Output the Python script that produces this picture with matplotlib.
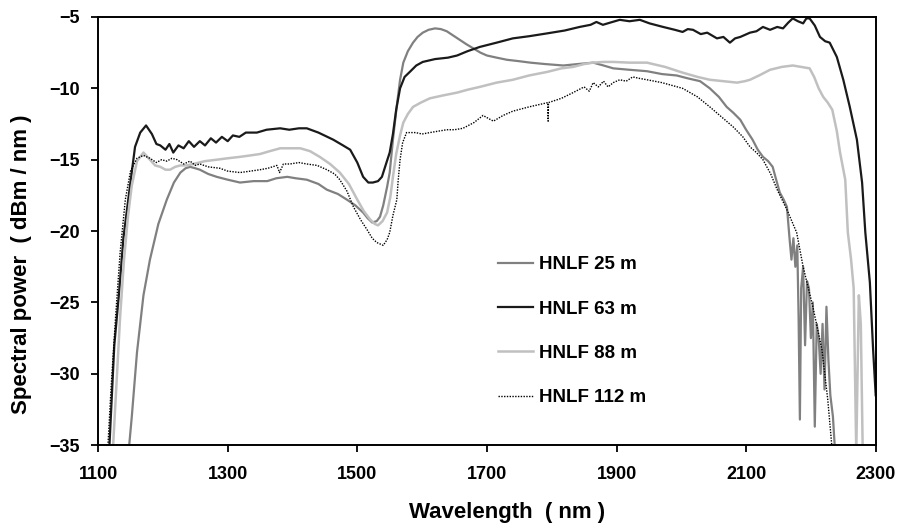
import matplotlib
matplotlib.use("Agg")
import matplotlib.pyplot as plt

plt.rcParams['font.family'] = ['Liberation Sans', 'DejaVu Sans']
plt.rcParams['font.weight'] = 'bold'

# HNLF 25 m
wl25 = [1146, 1152, 1160, 1170, 1180, 1193, 1206, 1217, 1227, 1235, 1242, 1250, 1257, 1270,
        1283, 1300, 1319, 1340, 1361, 1375, 1392, 1405, 1422, 1440, 1453, 1470, 1484, 1497,
        1509, 1516, 1523, 1530, 1535, 1540, 1546, 1550, 1555, 1561, 1566, 1571, 1578, 1586,
        1593, 1601, 1610, 1620, 1629, 1638, 1648, 1658, 1668, 1679, 1690, 1700, 1715, 1731,
        1750, 1767, 1790, 1818, 1840, 1864, 1880, 1895, 1920, 1947, 1970, 1993, 2010, 2029,
        2044, 2058, 2070, 2080, 2091, 2100, 2110, 2118, 2126, 2134, 2141, 2147, 2152, 2158,
        2163, 2167, 2170, 2173, 2176, 2179, 2181, 2183, 2185, 2188, 2191, 2194, 2197, 2200,
        2203, 2206, 2209, 2212, 2215, 2218, 2221, 2224, 2227, 2230, 2234, 2238]
p25 = [-36, -33, -28.5, -24.5, -22, -19.5, -17.8, -16.6, -15.9, -15.6, -15.5, -15.6, -15.7, -16.0,
       -16.2, -16.4, -16.6, -16.5, -16.5, -16.3, -16.2, -16.3, -16.4, -16.7, -17.1, -17.4, -17.8, -18.2,
       -18.7, -19.1, -19.4, -19.3, -19.0, -18.2, -16.9, -15.9, -13.6, -11.2, -9.4, -8.2, -7.4, -6.8,
       -6.4, -6.1, -5.9, -5.8, -5.85, -6.0, -6.3, -6.6, -6.9, -7.2, -7.5, -7.7, -7.85, -8.0,
       -8.1, -8.2, -8.3, -8.4, -8.3, -8.2, -8.4, -8.6, -8.7, -8.8, -9.0, -9.1, -9.3, -9.5,
       -10.0, -10.6, -11.3, -11.7, -12.2, -12.9, -13.6, -14.3, -14.8, -15.1, -15.5, -16.5, -17.3, -17.8,
       -18.3, -20.5, -22.0, -20.5, -22.5, -21.0, -26.0, -33.2, -24.0, -22.5, -28.0, -23.5, -24.0, -27.5,
       -25.0, -33.7, -26.5, -27.5, -30.0, -26.5, -31.1, -25.3, -29.0, -31.5, -33.0, -36]

# HNLF 63 m
wl63 = [1117, 1125, 1132, 1139, 1149, 1157, 1165, 1174, 1183, 1190, 1196, 1204, 1210, 1216,
        1224, 1232, 1240, 1248, 1257, 1265, 1274, 1282, 1291, 1300, 1308, 1318, 1328, 1345,
        1360, 1381, 1395, 1410, 1422, 1440, 1463, 1478, 1489, 1500, 1509, 1517, 1524, 1532,
        1538, 1545, 1550, 1555, 1560, 1566, 1573, 1581, 1591, 1601, 1620, 1640, 1654, 1670,
        1689, 1715, 1740, 1765, 1793, 1820, 1843, 1860, 1869, 1879, 1890, 1905, 1920, 1936,
        1951, 1972, 1990, 2002, 2010, 2018, 2030, 2040, 2055, 2065, 2075, 2083, 2091, 2106,
        2116, 2126, 2137, 2148, 2157, 2165, 2172, 2180, 2188, 2193, 2198, 2206, 2214, 2222,
        2229, 2240, 2250, 2260, 2271, 2279, 2284, 2291, 2296, 2300]
p63 = [-35.5, -28, -24.5, -20.5, -16.9, -14.1, -13.1, -12.6, -13.2, -13.9, -14.0, -14.3, -13.9, -14.5,
       -14.0, -14.2, -13.7, -14.1, -13.7, -14.0, -13.5, -13.8, -13.4, -13.7, -13.3, -13.4, -13.1, -13.1,
       -12.9, -12.8, -12.9, -12.8, -12.8, -13.1, -13.6, -14.0, -14.3, -15.2, -16.2, -16.6, -16.6, -16.5,
       -16.2, -15.2, -14.5, -13.2, -11.5, -10.0, -9.2, -8.85, -8.4, -8.15, -7.95, -7.85, -7.7, -7.4,
       -7.1, -6.8, -6.5, -6.35, -6.15, -5.95, -5.7, -5.55, -5.35, -5.55, -5.4, -5.2, -5.3, -5.2,
       -5.45, -5.7, -5.9, -6.05, -5.85, -5.9, -6.2, -6.1, -6.5, -6.4, -6.8, -6.5, -6.4, -6.1,
       -6.0, -5.7, -5.9, -5.7, -5.8, -5.4, -5.1, -5.3, -5.45, -5.1, -5.1, -5.6, -6.4, -6.7,
       -6.8, -7.8, -9.4, -11.3, -13.6, -16.6, -20.1, -23.6, -28.3, -31.5]

# HNLF 88 m
wl88 = [1122, 1128, 1134, 1140, 1146, 1152, 1160, 1170, 1180, 1188, 1196, 1204, 1211, 1219,
        1227, 1237, 1247, 1265, 1283, 1300, 1319, 1335, 1350, 1365, 1381, 1396, 1412, 1427,
        1442, 1458, 1473, 1487, 1500, 1510, 1520, 1527, 1532, 1539, 1546, 1551, 1555, 1560,
        1566, 1571, 1578, 1586, 1598, 1612, 1632, 1654, 1670, 1689, 1715, 1740, 1765, 1793,
        1815, 1833, 1850, 1864, 1880, 1895, 1920, 1947, 1975, 2002, 2025, 2044, 2065, 2086,
        2098, 2106, 2120, 2137, 2155, 2172, 2185, 2198, 2205, 2212, 2219, 2226, 2233, 2240,
        2245, 2253, 2257, 2262, 2266, 2270, 2274, 2277, 2280]
p88 = [-36, -31, -26, -22, -19, -16.8, -15.1, -14.5, -15.0, -15.4, -15.5, -15.7, -15.7, -15.5,
       -15.4, -15.4, -15.3, -15.1, -15.0, -14.9, -14.8, -14.7, -14.6, -14.4, -14.2, -14.2, -14.2, -14.4,
       -14.8, -15.3, -15.9, -16.7, -17.8, -18.6, -19.2, -19.5, -19.6, -19.3, -18.7, -17.6, -16.2, -14.6,
       -13.3, -12.4, -11.8, -11.3, -11.0, -10.7, -10.5, -10.3, -10.1, -9.9, -9.6, -9.4, -9.1, -8.85,
       -8.6, -8.5, -8.3, -8.2, -8.15, -8.15, -8.2, -8.2, -8.5, -8.9, -9.2, -9.4, -9.5, -9.6,
       -9.5, -9.4, -9.1, -8.7, -8.5, -8.4, -8.5, -8.6, -9.2, -10.0, -10.6, -11.0, -11.5, -13.0,
       -14.5, -16.4, -20.1, -22.0, -24.0, -35.5, -24.5, -26.5, -35.5]

# HNLF 112 m
wl112 = [1114, 1120, 1127, 1134, 1142, 1150, 1160, 1170, 1180, 1190, 1198, 1206, 1214, 1222,
         1232, 1242, 1250, 1257, 1270, 1288, 1300, 1319, 1335, 1350, 1362, 1376, 1380, 1386,
         1396, 1410, 1422, 1438, 1453, 1465, 1473, 1484, 1494, 1505, 1515, 1523, 1530, 1540,
         1546, 1550, 1555, 1561, 1563, 1566, 1570, 1576, 1590, 1600, 1612, 1625, 1638, 1650,
         1663, 1680, 1694, 1702, 1710, 1725, 1740, 1765, 1794, 1794.5, 1795, 1815, 1833, 1850,
         1858, 1864, 1872, 1880, 1887, 1895, 1905, 1915, 1925, 1935, 1947, 1970, 2002, 2025,
         2044, 2062, 2080, 2095, 2106, 2116, 2126, 2138, 2148, 2163, 2178, 2188, 2203, 2217,
         2226, 2232, 2234]
p112 = [-36, -31, -26, -21.5, -17.8, -15.8, -14.9, -14.7, -14.9, -15.2, -15.0, -15.1, -14.9, -15.0,
        -15.3, -15.1, -15.4, -15.3, -15.5, -15.6, -15.8, -15.9, -15.8, -15.7, -15.6, -15.4, -15.9, -15.3,
        -15.3, -15.2, -15.3, -15.4, -15.7, -16.0, -16.4, -17.2, -18.3, -19.2, -19.9, -20.5, -20.8, -21.0,
        -20.6, -20.1, -18.9, -17.8, -16.5, -15.0, -13.8, -13.1, -13.1, -13.2, -13.1, -13.0, -12.9, -12.9,
        -12.8, -12.4, -11.9, -12.1, -12.3, -11.9, -11.6, -11.3, -11.0, -12.3, -11.0, -10.7, -10.3, -9.9,
        -10.2, -9.6, -9.9, -9.5, -9.9, -9.6, -9.4, -9.5, -9.2, -9.3, -9.4, -9.6, -10.0, -10.6,
        -11.3, -12.0, -12.7, -13.4, -14.1, -14.5, -15.0, -16.0, -17.1, -18.5, -20.1, -22.5, -25.3, -28.3,
        -31.8, -34.9, -36]

labels = ['HNLF 25 m', 'HNLF 63 m', 'HNLF 88 m', 'HNLF 112 m']

fig = plt.figure(figsize=(9, 5.3), dpi=100)
ax = fig.add_axes([0.109, 0.160, 0.864, 0.808])

ax.plot(wl25, p25, color='#808080', lw=1.6, label=labels[0])
ax.plot(wl63, p63, color='#1a1a1a', lw=1.6, label=labels[1])
ax.plot(wl88, p88, color='#c0c0c0', lw=1.8, label=labels[2])
ax.plot(wl112, p112, color='black', lw=1.0, linestyle=(0, (1, 1)), label=labels[3])

ax.set_xlim(1100, 2300)
ax.set_ylim(-35, -5)
ax.set_xticks(range(1100, 2301, 200))
ax.set_yticks(range(-35, -4, 5))
ax.tick_params(direction='out', length=5, width=1.3, labelsize=13)
ax.tick_params(axis='x', pad=10)
ax.tick_params(axis='y', pad=8)
for lab in ax.get_xticklabels() + ax.get_yticklabels():
    lab.set_fontweight('bold')
for s in ax.spines.values():
    s.set_linewidth(1.4)
    s.set_color('black')

ax.set_xlabel('Wavelength  ( nm )', fontsize=16, fontweight='bold')
ax.set_ylabel('Spectral power  ( dBm / nm )', fontsize=16, fontweight='bold')
ax.xaxis.set_label_coords(0.526, -0.133)
ax.yaxis.set_label_coords(-0.085, 0.423)

ax.legend(loc='center left', bbox_to_anchor=(0.514, 0.266), frameon=False,
          prop={'weight': 'bold', 'size': 13.5}, labelspacing=1.45, handlelength=1.9,
          handletextpad=0.3, borderpad=0, borderaxespad=0)

fig.savefig('out.png', dpi=100)
